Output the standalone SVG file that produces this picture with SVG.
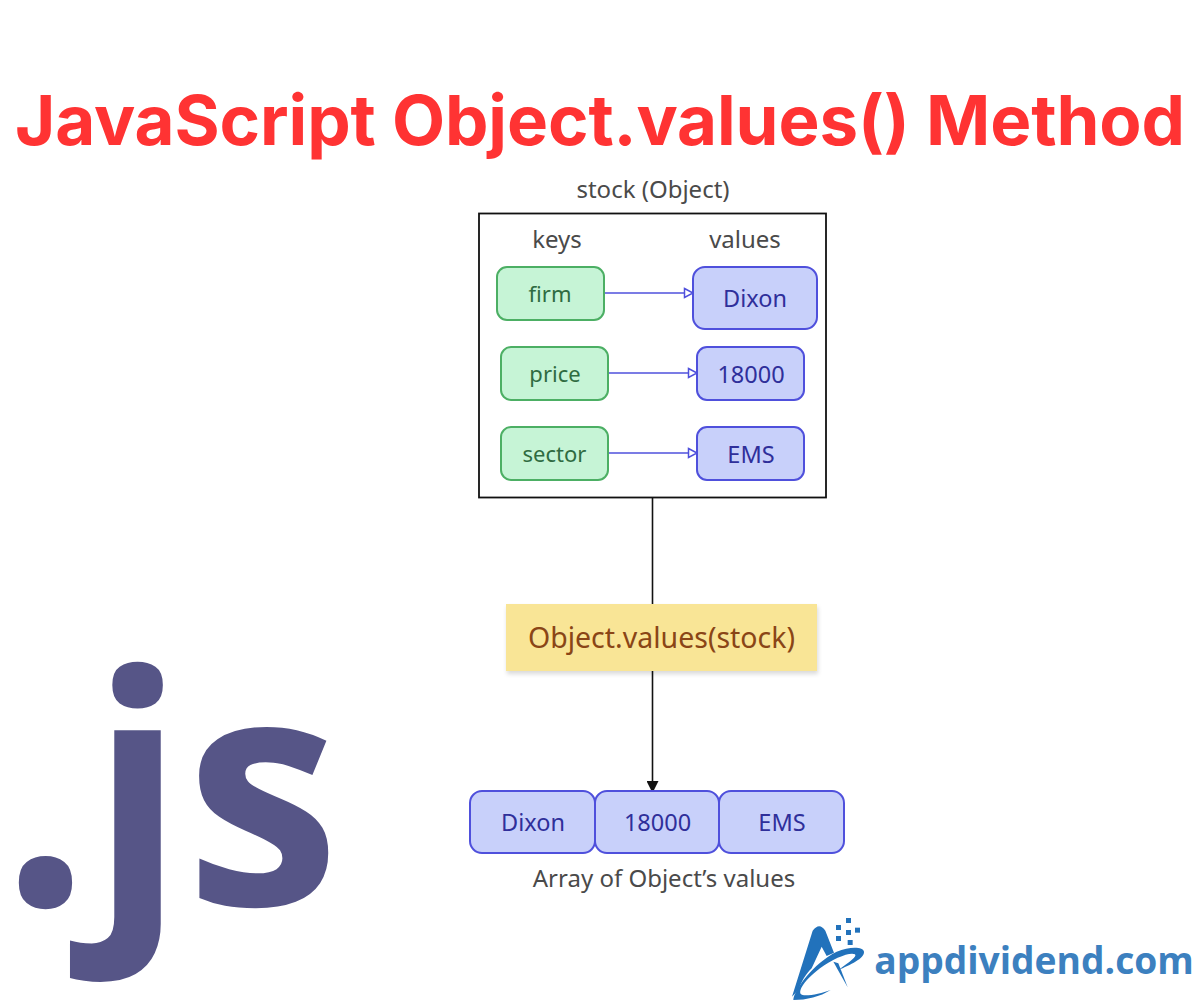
<svg xmlns="http://www.w3.org/2000/svg" width="1200" height="1000" viewBox="0 0 1200 1000">
<style>
text{font-family:"Noto Sans","Open Sans",sans-serif;text-anchor:middle}
.lab{font-size:24px;fill:#4a4a4a}
.k rect{fill:#c6f4d6;stroke:#4caf64;stroke-width:2}
.k text{font-size:22px;fill:#2f6b41}
.v rect{fill:#c8d0fa;stroke:#4f50dc;stroke-width:2}
.v text{font-size:23.5px;fill:#2f2f9a}
.blue{stroke:#4f50dc;stroke-width:1.6;fill:none}
.blk{stroke:#111;stroke-width:1.6;fill:none}
</style>
<defs>
<marker id="open" markerUnits="userSpaceOnUse" markerWidth="12" markerHeight="14" refX="10" refY="6" orient="auto"><path d="M1.5 1.5L10 6L1.5 10.500Z" fill="#fff" stroke="#4f50dc" stroke-width="1.500"/></marker>
<marker id="solid" markerUnits="userSpaceOnUse" markerWidth="14" markerHeight="12" refX="11" refY="6" orient="auto"><path d="M0 0L12 6L0 12Z" fill="#111"/></marker>
<filter id="sh" x="-5%" y="-10%" width="110%" height="130%"><feDropShadow dx="1" dy="3" stdDeviation="2" flood-color="#000" flood-opacity=".15"/></filter>
</defs>
<rect width="1200" height="1000" fill="#fff"/>
<text id="title" x="600" y="145" textLength="1170" lengthAdjust="spacing" style="font-family:Inter,sans-serif;font-weight:700;font-size:69px;fill:#ff3333">JavaScript Object.values() Method</text>
<text id="js" transform="translate(1 905) scale(.945 .97)" style="font-family:'Open Sans',sans-serif;font-weight:700;font-size:330px;fill:#565587;text-anchor:start">.js</text>
<g id="connectors">
<path class="blk" d="M652.500 497V604"/>
<path class="blk" d="M652.500 671V792" marker-end="url(#solid)"/>
<path class="blue" d="M604 293H693" marker-end="url(#open)"/>
<path class="blue" d="M608 373H697" marker-end="url(#open)"/>
<path class="blue" d="M608 453H697" marker-end="url(#open)"/>
</g>
<g id="stock"><text class="lab" x="653" y="198">stock (Object)</text><rect x="479" y="213.500" width="347" height="284" fill="none" stroke="#111" stroke-width="1.800"/></g>
<text id="keys" class="lab" x="557" y="248">keys</text>
<text id="values" class="lab" x="745" y="248">values</text>
<g id="firm" class="k"><rect x="497" y="267" width="107" height="53" rx="10"/><text x="550" y="302">firm</text></g>
<g id="price" class="k"><rect x="501" y="347" width="107" height="53" rx="10"/><text x="555" y="382">price</text></g>
<g id="sector" class="k"><rect x="501" y="427" width="107" height="53" rx="10"/><text x="554.500" y="462">sector</text></g>
<g id="dixon" class="v"><rect x="693" y="267" width="124" height="62" rx="12"/><text x="755" y="307">Dixon</text></g>
<g id="v18000" class="v"><rect x="697" y="347" width="107" height="53" rx="10"/><text x="751" y="383">18000</text></g>
<g id="ems" class="v"><rect x="697" y="427" width="107" height="53" rx="10"/><text x="751" y="463">EMS</text></g>
<g id="method"><rect x="506" y="604" width="311" height="67" fill="#f9e596" filter="url(#sh)"/><text x="661.500" y="648" style="font-size:28.500px;fill:#8a4516">Object.values(stock)</text></g>
<g id="a0" class="v"><rect x="470" y="791" width="125" height="62" rx="12"/><text x="533" y="831">Dixon</text></g>
<g id="a1" class="v"><rect x="595" y="791" width="124" height="62" rx="12"/><text x="657.500" y="831">18000</text></g>
<g id="a2" class="v"><rect x="719" y="791" width="125" height="62" rx="12"/><text x="782" y="831">EMS</text></g>
<text id="caption" class="lab" x="664" y="887">Array of Object’s values</text>
<g id="logo" fill="#2272bb" transform="translate(770 900) scale(.33333)">
<path d="M66 290L128 92Q148 65 166 92L192 158L170 168L155 140L125 205C105 225 92 250 85 270Z"/>
<path d="M70 300C72 270 130 190 200 155C240 138 280 140 282 155C284 175 240 195 205 210C240 185 262 170 255 163C240 155 190 175 150 205C115 232 85 265 92 282C100 292 150 282 182 270C150 290 110 300 70 300Z"/>
<path d="M190 185L205 190L233 262Z"/>
<rect x="198" y="75" width="15" height="15"/><rect x="228" y="54" width="15" height="15"/><rect x="228" y="90" width="15" height="15"/><rect x="255" y="83" width="15" height="15"/><rect x="198" y="108" width="15" height="15"/><rect x="233" y="120" width="15" height="15"/>
</g>
<text id="brand" x="1034" y="974" style="font-family:'Open Sans',sans-serif;font-weight:700;font-size:37.200px;fill:#3c80bf">appdividend.com</text>
</svg>
